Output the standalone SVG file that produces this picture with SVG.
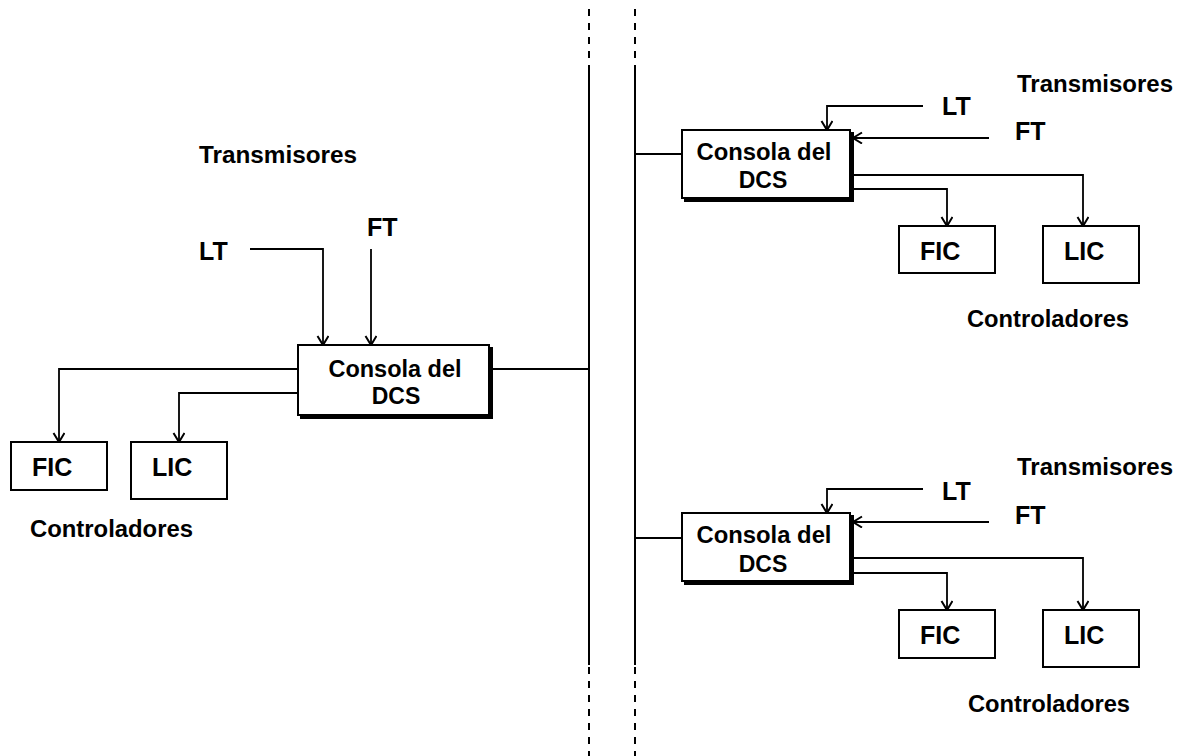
<svg xmlns="http://www.w3.org/2000/svg" width="1180" height="756" viewBox="0 0 1180 756">
  <style>
    .lbl { font-family: "Liberation Sans", Arial, sans-serif; font-weight: bold; fill: #000; }
    .sm { font-size: 23px; }
    .big { font-size: 25px; }
    .box { fill: #fff; stroke: #000; stroke-width: 2; }
    .shadow { fill: #000; }
    .wire { fill: none; stroke: #000; stroke-width: 1.8; }
    .bus { fill: none; stroke: #000; stroke-width: 2; }
    .dash { stroke-dasharray: 7 7; }
  </style>
  <defs>
    <marker id="arr" markerUnits="userSpaceOnUse" markerWidth="14" markerHeight="14" refX="10" refY="6" orient="auto">
      <path d="M1,0.5 L10,6 L1,11.5" fill="none" stroke="#000" stroke-width="2"/>
    </marker>
  </defs>
  <rect width="1180" height="756" fill="#fff"/>

  <!-- network buses -->
  <g id="buses">
    <line class="bus dash" x1="589" y1="9" x2="589" y2="64"/>
    <line class="bus" x1="589" y1="65" x2="589" y2="665"/>
    <line class="bus dash" x1="589" y1="667" x2="589" y2="756"/>
    <line class="bus dash" x1="635" y1="9" x2="635" y2="64"/>
    <line class="bus" x1="635" y1="65" x2="635" y2="665"/>
    <line class="bus dash" x1="635" y1="667" x2="635" y2="756"/>
  </g>

  <!-- connectors -->
  <g id="connectors">
    <!-- left station -->
    <polyline class="wire" points="250,249 323,249 323,345" marker-end="url(#arr)"/>
    <line class="wire" x1="371" y1="249" x2="371" y2="345" marker-end="url(#arr)"/>
    <line class="wire" x1="492" y1="369" x2="589" y2="369"/>
    <polyline class="wire" points="298,369 59,369 59,442" marker-end="url(#arr)"/>
    <polyline class="wire" points="298,393 179,393 179,442" marker-end="url(#arr)"/>
    <!-- upper right station -->
    <line class="wire" x1="635" y1="154" x2="682" y2="154"/>
    <polyline class="wire" points="923,106 827,106 827,130" marker-end="url(#arr)"/>
    <line class="wire" x1="989" y1="138" x2="853" y2="138" marker-end="url(#arr)"/>
    <polyline class="wire" points="851,175 1083,175 1083,226" marker-end="url(#arr)"/>
    <polyline class="wire" points="851,189 947,189 947,226" marker-end="url(#arr)"/>
    <!-- lower right station -->
    <line class="wire" x1="635" y1="538" x2="682" y2="538"/>
    <polyline class="wire" points="923,489 827,489 827,513" marker-end="url(#arr)"/>
    <line class="wire" x1="989" y1="522" x2="853" y2="522" marker-end="url(#arr)"/>
    <polyline class="wire" points="851,558 1083,558 1083,610" marker-end="url(#arr)"/>
    <polyline class="wire" points="851,573 947,573 947,610" marker-end="url(#arr)"/>
  </g>

  <!-- left station -->
  <g id="left-transmisores">
    <text class="lbl sm" x="199" y="163" textLength="158" lengthAdjust="spacingAndGlyphs">Transmisores</text>
    <text class="lbl big" x="199" y="260">LT</text>
    <text class="lbl big" x="367" y="236">FT</text>
  </g>
  <g id="left-consola">
    <rect class="shadow" x="300" y="347" width="193" height="72"/>
    <rect class="box" x="298" y="345" width="191" height="70"/>
    <text class="lbl sm" x="395" y="377" text-anchor="middle" textLength="133" lengthAdjust="spacingAndGlyphs">Consola del</text>
    <text class="lbl sm" x="396" y="404" text-anchor="middle">DCS</text>
  </g>
  <g id="left-fic">
    <rect class="box" x="11" y="442" width="96" height="48"/>
    <text class="lbl big" x="32" y="476">FIC</text>
  </g>
  <g id="left-lic">
    <rect class="box" x="131" y="442" width="96" height="57"/>
    <text class="lbl big" x="152" y="476">LIC</text>
  </g>
  <g id="left-controladores">
    <text class="lbl sm" x="30" y="537" textLength="163" lengthAdjust="spacingAndGlyphs">Controladores</text>
  </g>

  <!-- upper right station -->
  <g id="top-transmisores">
    <text class="lbl sm" x="1017" y="92" textLength="156" lengthAdjust="spacingAndGlyphs">Transmisores</text>
    <text class="lbl big" x="942" y="115">LT</text>
    <text class="lbl big" x="1015" y="140">FT</text>
  </g>
  <g id="top-consola">
    <rect class="shadow" x="684" y="132" width="170" height="70"/>
    <rect class="box" x="682" y="130" width="168" height="68"/>
    <text class="lbl sm" x="764" y="160" text-anchor="middle" textLength="135" lengthAdjust="spacingAndGlyphs">Consola del</text>
    <text class="lbl sm" x="763" y="188" text-anchor="middle">DCS</text>
  </g>
  <g id="top-fic">
    <rect class="box" x="899" y="226" width="96" height="47"/>
    <text class="lbl big" x="920" y="260">FIC</text>
  </g>
  <g id="top-lic">
    <rect class="box" x="1043" y="226" width="96" height="57"/>
    <text class="lbl big" x="1064" y="260">LIC</text>
  </g>
  <g id="top-controladores">
    <text class="lbl sm" x="967" y="327" textLength="162" lengthAdjust="spacingAndGlyphs">Controladores</text>
  </g>

  <!-- lower right station -->
  <g id="bottom-transmisores">
    <text class="lbl sm" x="1017" y="475" textLength="156" lengthAdjust="spacingAndGlyphs">Transmisores</text>
    <text class="lbl big" x="942" y="500">LT</text>
    <text class="lbl big" x="1015" y="524">FT</text>
  </g>
  <g id="bottom-consola">
    <rect class="shadow" x="684" y="515" width="170" height="70"/>
    <rect class="box" x="682" y="513" width="168" height="68"/>
    <text class="lbl sm" x="764" y="543" text-anchor="middle" textLength="135" lengthAdjust="spacingAndGlyphs">Consola del</text>
    <text class="lbl sm" x="763" y="572" text-anchor="middle">DCS</text>
  </g>
  <g id="bottom-fic">
    <rect class="box" x="899" y="610" width="96" height="48"/>
    <text class="lbl big" x="920" y="644">FIC</text>
  </g>
  <g id="bottom-lic">
    <rect class="box" x="1043" y="610" width="96" height="57"/>
    <text class="lbl big" x="1064" y="644">LIC</text>
  </g>
  <g id="bottom-controladores">
    <text class="lbl sm" x="968" y="712" textLength="162" lengthAdjust="spacingAndGlyphs">Controladores</text>
  </g>
</svg>
